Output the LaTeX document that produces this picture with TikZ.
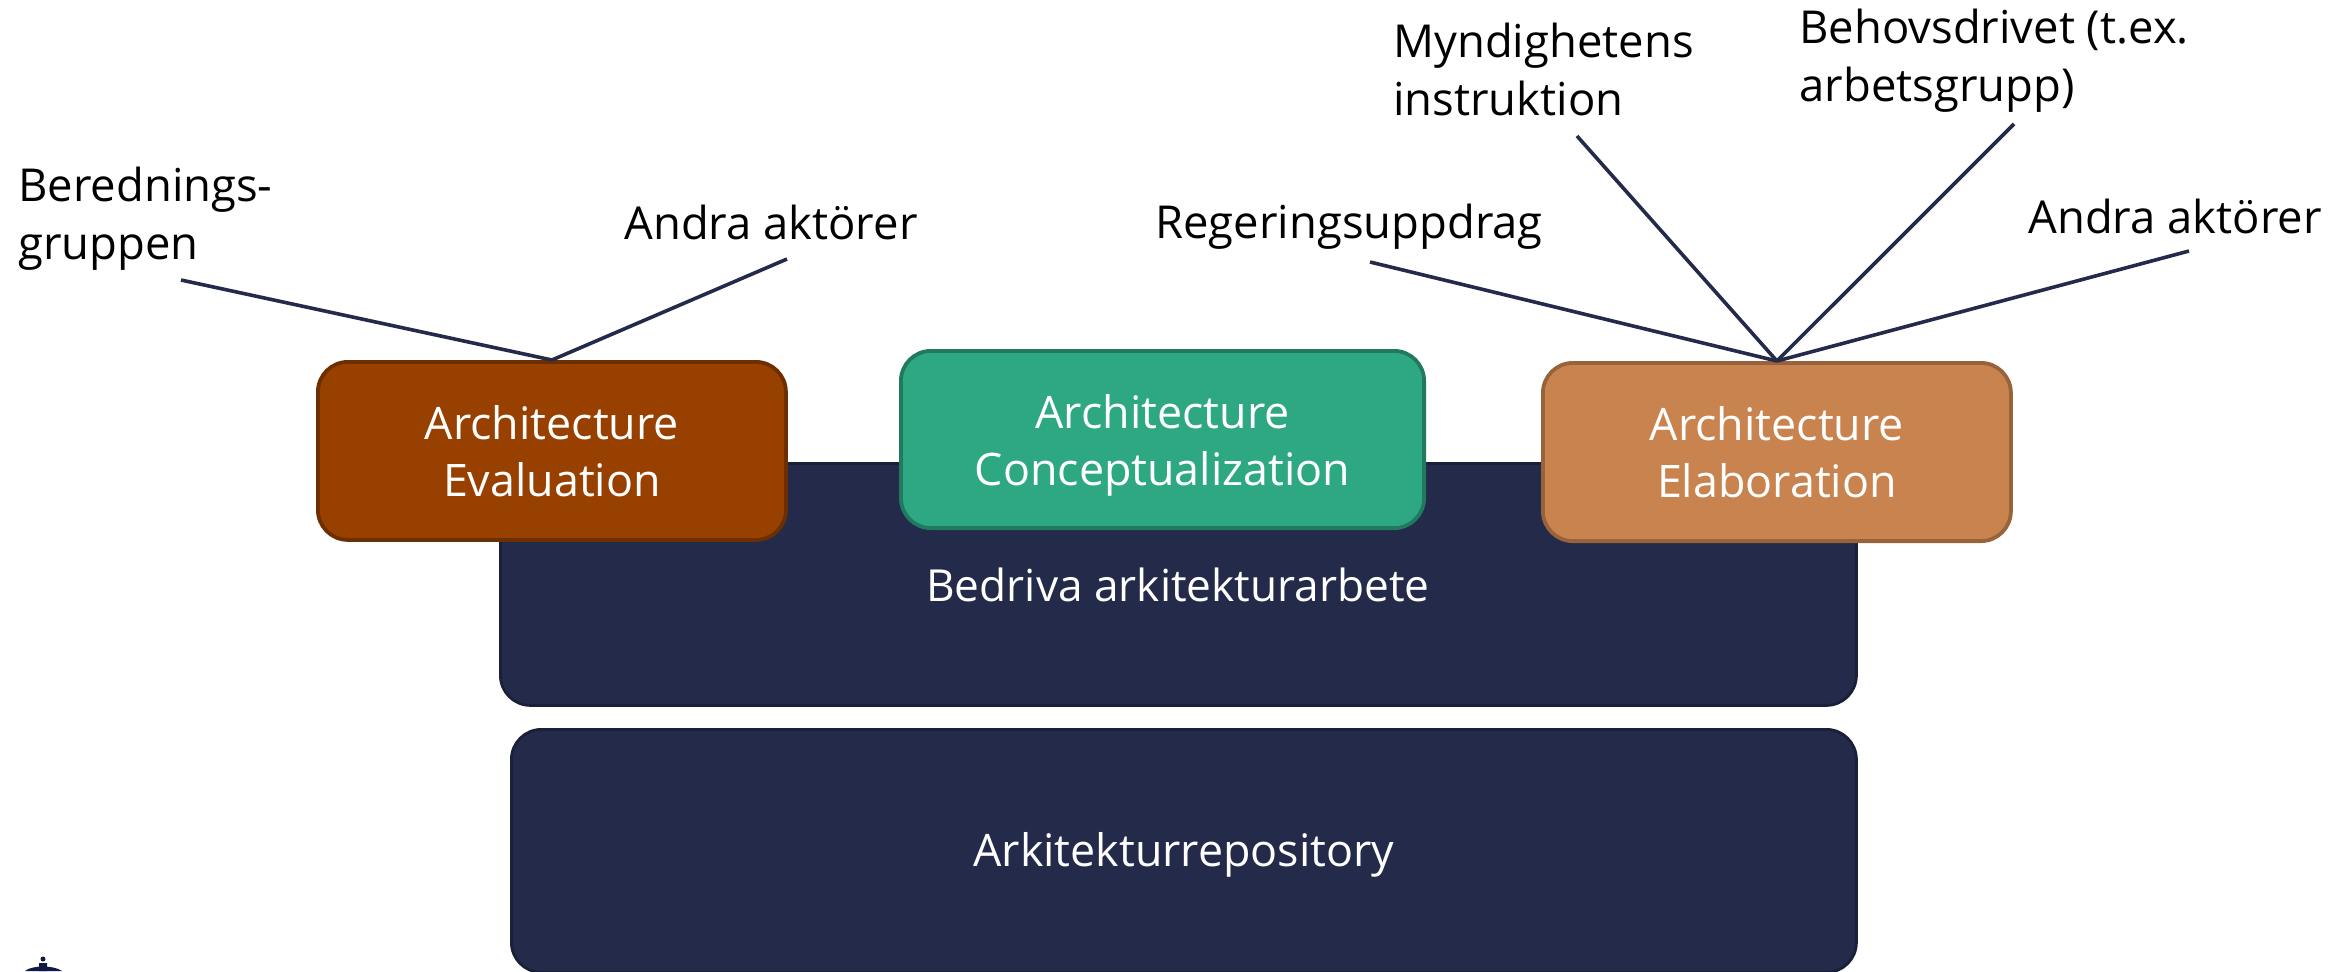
\documentclass[tikz,border=0pt]{standalone}
\usepackage{fontspec}
\setmainfont{Open Sans}
\definecolor{navy}{HTML}{232A4A}
\definecolor{navyd}{HTML}{1A2038}
\definecolor{brownf}{HTML}{974000}
\definecolor{brownd}{HTML}{6E2F00}
\definecolor{greenf}{HTML}{2EA882}
\definecolor{greend}{HTML}{217A5F}
\definecolor{tanf}{HTML}{C9834F}
\definecolor{tand}{HTML}{98623B}
\definecolor{logoc}{HTML}{0F1A45}
\begin{document}
\begin{tikzpicture}[x=0.5pt,y=-0.5pt,
  box/.style={rounded corners=15pt,line width=1.9pt,text=white,align=center,font=\fontsize{22.4}{28.5}\selectfont,inner sep=0pt,anchor=north west},
  base/.style={box,fill=navy,draw=navyd,line width=1.4pt},
  lbl/.style={text=black,align=left,anchor=west,inner sep=0pt,font=\fontsize{22.7}{29}\selectfont},
  link/.style={draw=navy,line width=1.8pt}]
\useasboundingbox (0,0) rectangle (2346,971);
\path[clip] (0,0) rectangle (2346,971);
\node[base,minimum width=678pt,minimum height=121pt] (work) at (499,462) {};
\node[font=\fontsize{22.1}{28.5}\selectfont,text=white,inner sep=0pt] (worklbl) at (1178,585) {Bedriva arkitekturarbete};
\node[base,minimum width=672.5pt,minimum height=121.5pt,font=\fontsize{22.4}{28.5}\selectfont] (repo) at (510,728) {\vphantom{A}\smash{Arkitekturrepository}};
\node[box,fill=brownf,draw=brownd,minimum width=234pt,minimum height=89pt] (eval) at (316,360) {Architecture\\Evaluation};
\node[box,fill=greenf,draw=greend,minimum width=261.6pt,minimum height=88.6pt] (conc) at (899,349) {Architecture\\\smash{Conceptualization}};
\node[box,fill=tanf,draw=tand,minimum width=234pt,minimum height=89.1pt] (elab) at (1541,361) {Architecture\\Elaboration};
\node[lbl] (t1) at (18,219) {Berednings-\\gruppen};
\node[lbl] (t2) at (624,222) {Andra aktörer};
\node[lbl] (t3) at (1155,227) {Regeringsuppdrag};
\node[lbl] (t4) at (1393,69) {Myndighetens\\instruktion};
\node[lbl] (t5) at (1799,61) {Behovsdrivet (t.ex.\\arbetsgrupp)};
\node[lbl] (t6) at (2028,216) {Andra aktörer};
\coordinate (e1) at (181,280);
\coordinate (e2) at (787,259);
\coordinate (e3) at (1370,262);
\coordinate (e4) at (1577,136);
\coordinate (e5) at (2014,124);
\coordinate (e6) at (2189,251);
\draw[link] (e1) -- (eval.north);
\draw[link] (e2) -- (eval.north);
\draw[link] (e3) -- (elab.north);
\draw[link] (e4) -- (elab.north);
\draw[link] (e5) -- (elab.north);
\draw[link] (e6) -- (elab.north);
\fill[logoc] (43,959) circle (2.5) (39,963) rectangle (47,971);
\fill[logoc] (25,971) .. controls (32,965) and (54,965) .. (62,971) -- cycle;
\end{tikzpicture}
\end{document}
